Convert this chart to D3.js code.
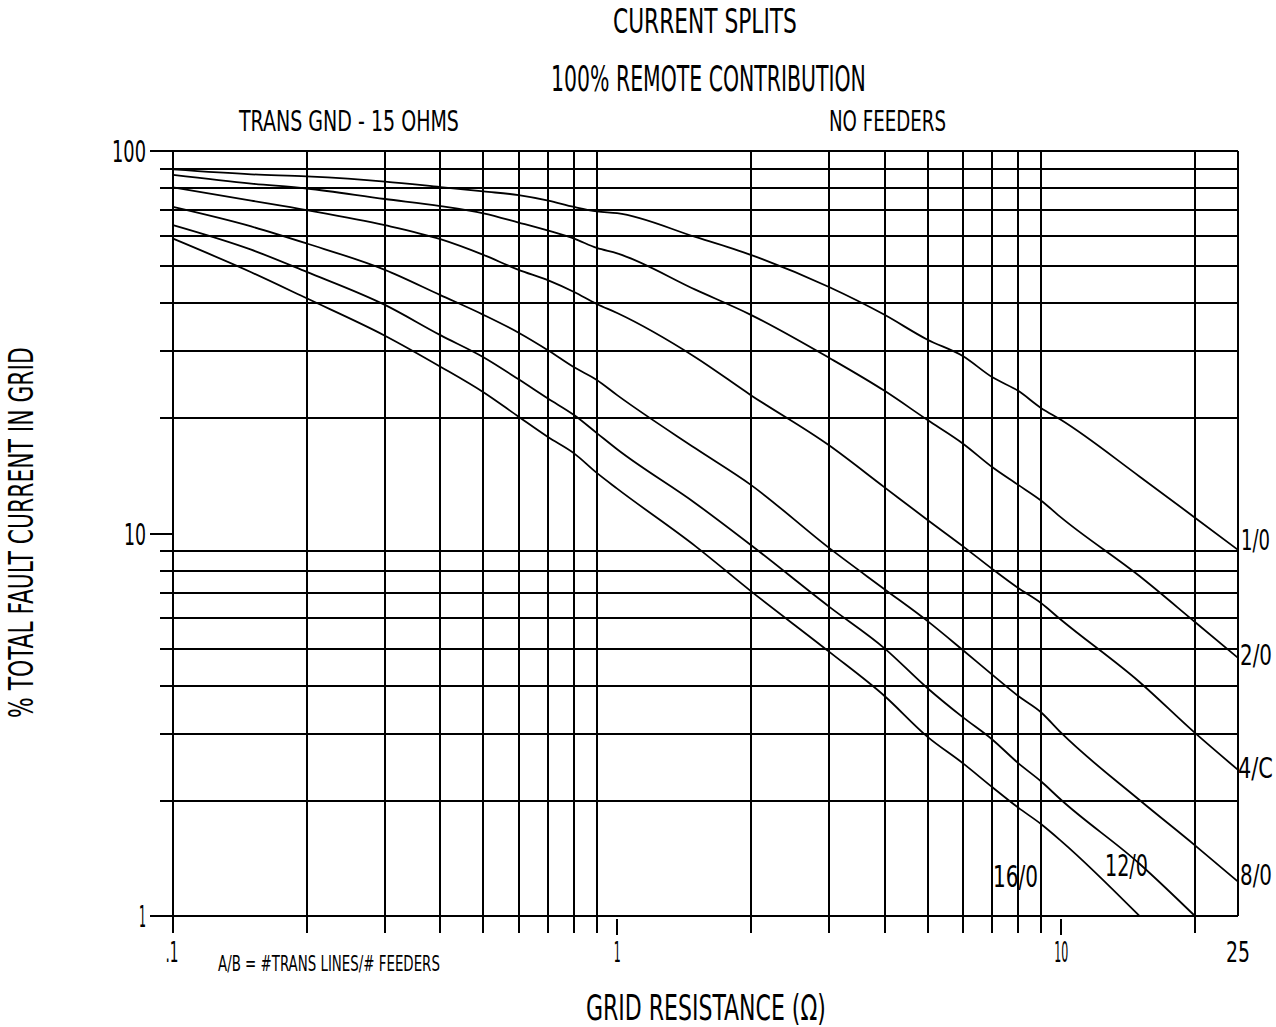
<!DOCTYPE html>
<html>
<head>
<meta charset="utf-8">
<script src="https://cdn.jsdelivr.net/npm/d3@7"></script>
<style>
  html, body { margin: 0; padding: 0; background: #fff; }
  svg text { font-family: 'DejaVu Sans Condensed', 'Liberation Sans Narrow', 'DejaVu Sans', sans-serif; fill: #000; }
</style>
</head>
<body>
<svg id="chart" width="1276" height="1027"></svg>
<script>
// ---------------- data ----------------
const xValues = [0.1, 0.15, 0.2, 0.3, 0.4, 0.5, 0.6, 0.7, 0.8, 0.9, 1, 1.5, 2, 3, 4, 5, 6, 7, 8, 9, 10, 15, 20, 25];

const series1_0  = [89.5, 86.9, 85.8, 83.2, 80.5, 78.4, 76.7, 74.2, 71.4, 69.5, 68.8, 59.6, 53.5, 44.1, 37.3, 32.1, 29.1, 25.6, 23.6, 21.3, 19.8, 14.1, 11.0, 9.06];
const series2_0  = [86.6, 82.2, 79.8, 74.9, 71.8, 68.7, 65.0, 61.9, 59.0, 55.8, 54.0, 43.4, 37.3, 28.8, 23.6, 19.8, 17.2, 14.9, 13.4, 12.2, 11.0, 7.74, 5.87, 4.73];
const series4_0  = [80.3, 74.2, 70.1, 64.0, 58.8, 53.5, 48.9, 45.9, 42.8, 39.8, 37.7, 28.9, 23.0, 17.0, 13.2, 10.85, 9.27, 8.07, 7.20, 6.58, 5.94, 4.09, 3.01, 2.41];
const series8_0  = [71.4, 63.5, 57.3, 48.9, 42.0, 37.3, 33.5, 30.1, 27.2, 25.2, 23.0, 16.7, 13.4, 9.17, 7.15, 5.90, 4.96, 4.27, 3.76, 3.41, 3.01, 2.01, 1.53, 1.23];
const series12_0 = [64.0, 55.2, 48.3, 39.6, 33.0, 28.9, 25.3, 22.5, 20.4, 18.3, 16.6, 12.0, 9.33, 6.44, 5.01, 3.94, 3.31, 2.89, 2.51, 2.25, 2.01, 1.37, 1.0];
const series16_0 = [59.0, 48.2, 41.2, 32.9, 27.3, 23.4, 20.2, 17.85, 16.2, 14.4, 13.1, 9.27, 7.07, 4.91, 3.76, 2.94, 2.51, 2.17, 1.92, 1.74, 1.57, 1.0];

const seriesNames = ["1/0", "2/0", "4/C", "8/0", "12/0", "16/0"];

const xGridValues = [0.2, 0.3, 0.4, 0.5, 0.6, 0.7, 0.8, 0.9, 2, 3, 4, 5, 6, 7, 8, 9, 20];
const yGridValues = [90, 80, 70, 60, 50, 40, 30, 20, 9, 8, 7, 6, 5, 4, 3, 2];
const xMajorTicks = [1, 10];
const yMajorTicks = [10];
const xTickValues = [0.1, 1, 10, 25];
const xTickLabels = [".1", "1", "10", "25"];
const yTickValues = [100, 10, 1];
const yTickLabels = ["100", "10", "1"];

const titleText    = "CURRENT SPLITS";
const subtitleText = "100% REMOTE CONTRIBUTION";
const leftNote     = "TRANS GND - 15 OHMS";
const rightNote    = "NO FEEDERS";
const legendNote   = "A/B = #TRANS LINES/# FEEDERS";
const xTitle       = "GRID RESISTANCE (\u03A9)";
const yTitle       = "% TOTAL FAULT CURRENT IN GRID";

// ---------------- layout ----------------
const svg = d3.select("#chart");
const x = d3.scaleLog().domain([0.1, 25]).range([173, 1238]);
const y = d3.scaleLog().domain([1, 100]).range([916, 151]);
const pL = x(0.1), pR = x(25), pT = y(100), pB = y(1);

const gGrid = svg.append("g").attr("stroke", "#000").attr("shape-rendering", "crispEdges");

// horizontal gridlines (minor), extending a little left of the frame
gGrid.selectAll("line.hg").data(yGridValues).join("line")
  .attr("class", "hg")
  .attr("x1", pL - 13).attr("x2", pR)
  .attr("y1", d => Math.round(y(d))).attr("y2", d => Math.round(y(d)))
  .attr("stroke-width", 2);

// vertical gridlines (minor), extending a little below the frame
gGrid.selectAll("line.vg").data(xGridValues).join("line")
  .attr("class", "vg")
  .attr("x1", d => Math.round(x(d))).attr("x2", d => Math.round(x(d)))
  .attr("y1", pT).attr("y2", pB + 17)
  .attr("stroke-width", 2);

// major ticks only (no gridline) at 10 on y and 1, 10 on x
gGrid.selectAll("line.ymaj").data(yMajorTicks).join("line")
  .attr("class", "ymaj")
  .attr("x1", pL - 23).attr("x2", pL)
  .attr("y1", d => Math.round(y(d))).attr("y2", d => Math.round(y(d)))
  .attr("stroke-width", 2);
gGrid.selectAll("line.xmaj").data(xMajorTicks).join("line")
  .attr("class", "xmaj")
  .attr("x1", d => Math.round(x(d))).attr("x2", d => Math.round(x(d)))
  .attr("y1", pB + 3).attr("y2", pB + 19)
  .attr("stroke-width", 2);

// frame
gGrid.append("line").attr("x1", pL - 23).attr("x2", pR).attr("y1", pT).attr("y2", pT).attr("stroke-width", 2);
gGrid.append("line").attr("x1", pL - 23).attr("x2", pR).attr("y1", pB).attr("y2", pB).attr("stroke-width", 2);
gGrid.append("line").attr("x1", pL).attr("x2", pL).attr("y1", pT).attr("y2", pB + 17).attr("stroke-width", 2);
gGrid.append("line").attr("x1", pR).attr("x2", pR).attr("y1", pT).attr("y2", pB).attr("stroke-width", 2);

// curves
const allSeries = [series1_0, series2_0, series4_0, series8_0, series12_0, series16_0];
const lineGen = d3.line()
  .x(d => x(d[0])).y(d => y(d[1]))
  .curve(d3.curveMonotoneX);
svg.append("g").selectAll("path").data(allSeries).join("path")
  .attr("d", s => lineGen(s.map((v, i) => [xValues[i], v])))
  .attr("fill", "none").attr("stroke", "#000").attr("stroke-width", 1.8)
  .attr("stroke-linejoin", "round");

// ---------------- text ----------------
// Narrow CAD-like lettering: measure the natural width, then scale horizontally
// so the text occupies exactly the width it has in the reference.
function label(xp, yp, s, size, width, anchor, rotate) {
  const t = svg.append("text")
    .attr("x", 0).attr("y", 0)
    .attr("font-size", size)
    .attr("text-anchor", "start")
    .text(s);
  const natural = t.node().getComputedTextLength() || width;
  const sx = width / natural;
  const off = anchor === "middle" ? -width / 2 : anchor === "end" ? -width : 0;
  const rot = rotate ? ` rotate(${rotate})` : "";
  t.attr("transform", `translate(${xp},${yp})${rot} translate(${off},0) scale(${sx},1)`);
  return t;
}

label(705, 33, titleText, 34, 184, "middle");
label(708.5, 91, subtitleText, 35, 315, "middle");
label(239, 131, leftNote, 29, 220, "start");
label(829, 131, rightNote, 29, 117, "start");

// y tick labels
const yLabelWidths = [34, 22, 7];
yTickValues.forEach((v, i) => {
  label(146, y(v) + 11, yTickLabels[i], 31, yLabelWidths[i], "end");
});
// x tick labels
const xLabelWidths = [13, 7, 14, 24];
xTickValues.forEach((v, i) => {
  label(x(v) + (i === 0 ? -1 : 0), 962, xTickLabels[i], 29, xLabelWidths[i], "middle");
});

label(218, 971, legendNote, 21, 222, "start");
label(706, 1020, xTitle, 35, 240, "middle");
label(33, 532.5, yTitle, 34, 371, "middle", -90);

// curve labels
label(1241, 550, seriesNames[0], 29, 29, "start");
label(1240, 665, seriesNames[1], 29, 32, "start");
label(1238, 778, seriesNames[2], 29, 35, "start");
label(1240, 885, seriesNames[3], 29, 32, "start");
label(1105, 876, seriesNames[4], 30, 43, "start");
label(993, 887, seriesNames[5], 30, 45, "start");
</script>
</body>
</html>
